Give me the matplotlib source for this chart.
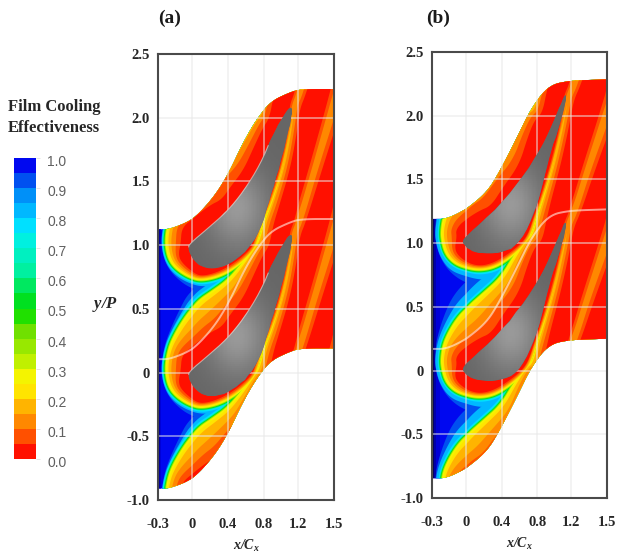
import numpy as np
import matplotlib
matplotlib.use("Agg")
import matplotlib.pyplot as plt
from matplotlib.colors import ListedColormap, BoundaryNorm
from matplotlib.patches import Polygon
from matplotlib.transforms import ScaledTranslation

plt.rcParams['mathtext.fontset'] = 'custom'
plt.rcParams['mathtext.it'] = 'Liberation Serif:italic:bold'
plt.rcParams['mathtext.rm'] = 'Liberation Serif:italic:bold'

# ---------- axes content ----------
x_ticks = [-0.3, 0, 0.4, 0.8, 1.2, 1.5]
x_tick_labels = ['-0.3', '0', '0.4', '0.8', '1.2', '1.5']
y_ticks = [-1.0, -0.5, 0, 0.5, 1.0, 1.5, 2.0, 2.5]
y_tick_labels = ['-1.0', '-0.5', '0', '0.5', '1.0', '1.5', '2.0', '2.5']
x_tick_spacing = [0, 34, 70, 106, 140, 176]   # unequal label steps on an evenly drawn axis
bar_ticks = [round(v * 0.1, 1) for v in range(11)]

# ---------- 20 colour bands of effectiveness, 0.00 .. 1.00 ----------
band_edges = [i * 0.05 for i in range(21)]
band_colors = ['#ff1000', '#ff5000', '#ff8800', '#ffb400', '#ffe400', '#f4f400', '#c0f000',
               '#98e800', '#70e000', '#20e000', '#00e020', '#00e860', '#00f0a0', '#00f0c0',
               '#00f0e0', '#00e0ff', '#00b8ff', '#0090f8', '#0050f0', '#0008f0']

# ---------- passage geometry: upper wall, blade outline ----------
wall_x_a = [-0.3, -0.195, 0.01, 0.235, 0.4, 0.57, 0.72, 0.87, 1.105, 1.24, 1.5]
wall_y_a = [1.125, 1.125, 1.20, 1.37, 1.555, 1.81, 1.99, 2.125, 2.20, 2.225, 2.225]
wall_x_b = [-0.3, -0.17, 0.01, 0.235, 0.375, 0.565, 0.745, 0.94, 1.18, 1.5]
wall_y_b = [1.19, 1.19, 1.27, 1.40, 1.56, 1.82, 2.08, 2.24, 2.275, 2.285]
passage_height = 2.035
midline_drop = 1.02

blade_x_a = [-0.035, -0.02, 0.165, 0.39, 0.57, 0.755, 0.905, 1.07, 1.12, 1.13, 1.105, 0.985, 0.87,
             0.755, 0.61, 0.42, 0.235, 0.09, 0.0]
blade_y_a = [0.97, 1.015, 1.125, 1.265, 1.42, 1.63, 1.87, 2.06, 2.085, 2.05, 1.945, 1.63, 1.37,
             1.11, 0.955, 0.85, 0.81, 0.835, 0.90]
blade_x_b = [-0.035, 0.01, 0.375, 0.68, 0.905, 1.09, 1.13, 1.14, 1.06, 0.94, 0.86, 0.745, 0.575,
             0.375, 0.155, 0.02]
blade_y_b = [1.01, 1.06, 1.29, 1.56, 1.82, 2.11, 2.17, 2.13, 1.92, 1.69, 1.45, 1.19, 0.98, 0.92,
             0.92, 0.955]

# ---------- coolant front around one blade (one pitch) ----------
front_up_x_a = [0.68, 0.535, 0.39, 0.235, 0.055, -0.06, -0.175, -0.22, -0.24]
front_up_y_a = [0.977, 0.844, 0.727, 0.648, 0.5625, 0.445, 0.273, 0.156, 0.016]
front_lo_x_a = [-0.21, -0.13, 0.01, 0.145, 0.345, 0.535, 0.69]
front_lo_y_a = [-0.117, -0.203, -0.273, -0.281, -0.242, -0.156, -0.047]
seam_x_a = [0.735, 0.80, 0.895, 1.035, 1.13, 1.155, 1.217, 1.34, 1.483, 1.59]
seam_y_a = [0.03, 0.19, 0.34, 0.63, 0.945, 1.085, 1.195, 1.595, 2.045, 2.40]

front_up_x_b = [0.67, 0.535, 0.39, 0.19, 0.0, -0.105, -0.195, -0.22, -0.22]
front_up_y_b = [1.03, 0.906, 0.734, 0.609, 0.492, 0.383, 0.234, 0.117, 0.03]
front_lo_x_b = [-0.185, -0.105, 0.01, 0.165, 0.33, 0.49, 0.645]
front_lo_y_b = [-0.086, -0.164, -0.203, -0.219, -0.195, -0.125, -0.03]
seam_x_b = [0.735, 0.80, 0.88, 1.0, 1.12, 1.165, 1.23, 1.34, 1.483, 1.59]
seam_y_b = [0.0625, 0.22, 0.375, 0.64, 0.97, 1.14, 1.25, 1.58, 1.97, 2.28]

# ---------- iso-effectiveness levels: effectiveness and depth from the front, 1/128 pitch ----------
cold_eta = [0.91, 0.83, 0.76, 0.64, 0.52, 0.37]
cold_up = [[5, 8, 12, 14, 12, 8, 5, 4, 4],
           [4, 5, 7, 8, 7, 5, 4, 3.8, 3.8],
           [3, 3.5, 4, 4, 4, 4, 3.5, 3.2, 3.2],
           [2.5, 2.5, 2.5, 2.5, 2.5, 2.5, 2.5, 2.5, 2.5],
           [1.8, 1.8, 1.8, 1.8, 1.8, 1.8, 1.8, 1.8, 1.8],
           [0.9, 0.9, 0.9, 0.9, 0.9, 0.9, 0.9, 0.9, 0.9]]
cold_lo = [[4, 6, 9, 12, 16, 16, 10],
           [3.8, 5, 5, 6, 8, 8, 6],
           [3.2, 3.5, 3.5, 4, 4, 4, 3],
           [2.5, 2.5, 2.5, 2.5, 2.5, 2.5, 2.5],
           [1.8, 1.8, 1.8, 1.8, 1.8, 1.8, 1.8],
           [0.9, 0.9, 0.9, 0.9, 0.9, 0.9, 0.9]]
cold_scale_a = 1.0
cold_scale_b = 1.5

hot_eta = [0.27, 0.22, 0.17, 0.12, 0.07, 0.02]
# negative depth: neighbouring pitches overlap, so the wake shows only the outer orange
hot_seam_right = [[-3, -3, -3, -3, -3, -3, -2, 0, 0, 0],
                  [-2, -2, -2, -2, -2, -2, -1, 0, 0.5, 0.5],
                  [-1.5, -1.5, -1.5, -1.5, -1.5, -1, 0, 0.5, 1, 1.5],
                  [-0.5, -0.5, -0.5, -0.5, -0.5, 0.5, 1.5, 2, 3, 4],
                  [4, 4, 3, 3, 3, 3, 4, 5, 6, 7],
                  [9, 8, 7, 6, 6, 6, 7, 8, 10, 12]]
hot_up = [[0, 0, 0, 0, 0, 0, 0, 0, 0],
          [1, 1.5, 2, 2, 2.5, 2, 2, 1.5, 1.5],
          [1.5, 3, 4, 5, 6, 5, 4, 3, 3],
          [3, 6, 10, 13, 16, 13, 8, 6, 6],
          [7, 11, 16, 20, 25, 21, 14, 10, 11],
          [12, 17, 24, 30, 36, 30, 21, 15, 16]]
hot_lo = [[0, 0, 0, 0, 0, 0, 0],
          [1.5, 1.2, 1, 1, 1, 1, 1],
          [3, 2.5, 2, 2, 2, 1.5, 1.5],
          [5.5, 4.5, 3, 3, 3, 2.5, 2],
          [8, 6.5, 4.5, 4, 4, 3.5, 3],
          [11, 9, 6, 5, 5.5, 5, 4]]
hot_seam_left = [[0, 0, 0, -2, -3, -3, -3, -3, -3, -3],
                 [0.5, 0.5, 0, -1, -2, -2, -2, -2, -2, -2],
                 [1, 1, 0.5, 0, -1, -1.5, -1.5, -1.5, -1.5, -1.5],
                 [2, 2, 1.5, 1.5, 1, -0.5, -0.5, -0.5, -0.5, -0.5],
                 [3, 2.5, 2, 2, 2, 3, 3, 3, 4, 4],
                 [3.5, 3, 3, 3, 3, 5, 5, 6, 7, 8]]

inlet_eta = [1.0]
pitches = [-2, -1, 0, 1, 2]

# ---------- helpers ----------
knots_x = np.array([-1.3] + x_ticks + [2.5])
knots_u = np.array([x_tick_spacing[0] - 34 / 0.3, *x_tick_spacing, x_tick_spacing[-1] + 36 / 0.3])


def to_u(x):
    return np.interp(x, knots_x, knots_u)


def from_u(u):
    return np.interp(u, knots_u, knots_x)


def color_of(eta):
    return band_colors[min(int(eta / 0.05), 19)]


def chaikin(x, y, closed=True, n=3):
    x, y = np.asarray(x, float), np.asarray(y, float)
    for _ in range(n):
        if closed:
            x1, y1 = np.roll(x, -1), np.roll(y, -1)
            x, y = (np.column_stack([.75 * x + .25 * x1, .25 * x + .75 * x1]).ravel(),
                    np.column_stack([.75 * y + .25 * y1, .25 * y + .75 * y1]).ravel())
        else:
            qx = np.column_stack([.75 * x[:-1] + .25 * x[1:], .25 * x[:-1] + .75 * x[1:]]).ravel()
            qy = np.column_stack([.75 * y[:-1] + .25 * y[1:], .25 * y[:-1] + .75 * y[1:]]).ravel()
            x = np.r_[x[0], qx, x[-1]]
            y = np.r_[y[0], qy, y[-1]]
    return x, y


def level_outline(fx, fy, depth):
    """Iso-line offset from the front path; depth>0 towards the blade, <0 towards the coolant."""
    u, v = to_u(fx), np.asarray(fy) * 128.0
    tu, tv = np.gradient(u), np.gradient(v)
    norm = np.hypot(tu, tv)
    u2 = u - tv / norm * depth
    v2 = v + tu / norm * depth
    return from_u(u2), v2 / 128.0


def draw_panel(ax, wx, wy, bx, by, ux, uy, lx, ly, sx, sy, inlet_edges, inlet_colors, blade_hi, edge_line, cold_scale):
    ax.set_xscale('function', functions=(to_u, from_u))
    ax.set_xlim(-0.3, 1.5)
    ax.set_ylim(-1.0, 2.5)
    wx2, wy2 = chaikin(wx, wy, closed=False)
    dom_x = np.r_[wx2, wx2[::-1]]
    dom_y = np.r_[wy2, wy2[::-1] - passage_height]
    domain = Polygon(np.column_stack([dom_x, dom_y]), closed=True, fc=color_of(inlet_eta[0]), ec='none', zorder=1)
    ax.add_patch(domain)

    for x0, x1, c in zip(inlet_edges[:-1], inlet_edges[1:], inlet_colors):
        r = ax.axvspan(x0, x1, fc=c, ec='none', zorder=1.1)
        r.set_clip_path(domain)

    # one closed path: seam of the next pitch, front over and under the blade, seam of this pitch
    sx_, sy_ = np.asarray(sx), np.asarray(sy)
    fx = np.r_[sx_[::-1], ux, lx, sx_]
    fy = np.r_[sy_[::-1] + 1.0, uy, ly, sy_]

    z = 2.0
    zeros = [0] * len(sx)
    for i, eta in enumerate(cold_eta):
        sc = cold_scale if i < 2 else 1.0
        depth = -np.r_[zeros, np.array(cold_up[i]) * sc, np.array(cold_lo[i]) * sc, zeros]
        ox, oy = level_outline(fx, fy, depth)
        ox, oy = chaikin(ox, oy)
        for k in pitches:
            p = Polygon(np.column_stack([ox, oy + k]), closed=True, fc=color_of(eta), ec='none', zorder=z)
            ax.add_patch(p)
            p.set_clip_path(domain)
        z += 0.01
    for i, eta in enumerate(hot_eta):
        depth = np.r_[hot_seam_right[i], hot_up[i], hot_lo[i], hot_seam_left[i]]
        ox, oy = level_outline(fx, fy, depth)
        ox, oy = chaikin(ox, oy)
        for k in pitches:
            p = Polygon(np.column_stack([ox, oy + k]), closed=True, fc=color_of(eta), ec='none', zorder=z)
            ax.add_patch(p)
            p.set_clip_path(domain)
        z += 0.01

    # blades, grey with a paler core
    bx2, by2 = chaikin(bx, by, n=2)
    gx = np.linspace(-0.1, 1.2, 90)
    gy = np.linspace(-0.3, 2.2, 160)
    GX, GY = np.meshgrid(gx, gy)
    for k in (0, 1):
        cx, cy = blade_hi
        C = np.exp(-(((GX - cx) / 0.33) ** 2 + ((GY - (cy + k - 1)) / 0.3) ** 2))
        poly = Polygon(np.column_stack([bx2, by2 + k - 1]), closed=True, fc='#6a6a6a', ec='none', zorder=3)
        ax.add_patch(poly)
        m = ax.pcolormesh(gx, gy, C, cmap='gray', vmin=-2.0, vmax=3.0, shading='auto', zorder=3.1, rasterized=True)
        m.set_clip_path(poly)
        if edge_line:
            ax.plot(bx2[:22], by2[:22] + k - 1, color='#f4e0d8', lw=0.8, alpha=0.6, zorder=3.2)

    # periodic boundary line
    ax.plot(wx2, wy2 - midline_drop, color='#fff0e8', lw=1.4, alpha=0.6, zorder=4)

    for s in ax.spines.values():
        s.set_color('#4a4a4a')
        s.set_linewidth(1.5)
        s.set_zorder(6)
    ax.set_xticks(x_ticks, x_tick_labels)
    ax.set_yticks(y_ticks, y_tick_labels)
    ax.minorticks_off()
    ax.tick_params(axis='x', length=0, pad=13, labelsize=10.5, labelcolor='#262626')
    ax.tick_params(axis='y', length=0, pad=6, labelsize=10.5, labelcolor='#262626')
    for t in ax.get_xticklabels() + ax.get_yticklabels():
        t.set_fontfamily('Liberation Serif')
        t.set_fontweight('bold')
    ax.grid(True, color='#e8e8e8', lw=1.1, alpha=0.65, zorder=5)
    ax.set_axisbelow(False)
    ax.set_xlabel(r'$x/C_x$', fontsize=10, color='#262626', labelpad=5)


W, H = 620, 557
fig = plt.figure(figsize=(W / 100, H / 100), dpi=100)


def rect(l, r, t, b):
    return [l / W, 1 - b / H, (r - l) / W, (b - t) / H]


ax_a = fig.add_axes(rect(158, 334, 54, 500))
ax_b = fig.add_axes(rect(432, 607, 52, 498))
draw_panel(ax_a, wall_x_a, wall_y_a, blade_x_a, blade_y_a, front_up_x_a, front_up_y_a, front_lo_x_a, front_lo_y_a,
           seam_x_a, seam_y_a, [-0.3, -0.285, -0.27], ['#0000a0', '#0000d8'], (0.5, 1.29), True, cold_scale_a)
draw_panel(ax_b, wall_x_b, wall_y_b, blade_x_b, blade_y_b, front_up_x_b, front_up_y_b, front_lo_x_b, front_lo_y_b,
           seam_x_b, seam_y_b, [-0.3, -0.285, -0.265, -0.23], ['#000060', '#0000a8', '#0000d8'], (0.5, 1.3), False,
           cold_scale_b)

ax_a.text((170 - 158) / 176, (500 - 18) / 446, '(a)', transform=ax_a.transAxes, ha='center', va='center',
          family='Liberation Serif', weight='bold', fontsize=14, color='#1a1a1a')
ax_b.text((438 - 432) / 175, (498 - 18) / 446, '(b)', transform=ax_b.transAxes, ha='center', va='center',
          family='Liberation Serif', weight='bold', fontsize=14, color='#1a1a1a')
ax_a.set_ylabel(r'$y/P$', fontsize=12, rotation=0, color='#262626', va='center', ha='center')
ax_a.yaxis.set_label_coords((105 - 158) / 176, (500 - 304) / 446)

# colour bar
ax_c = fig.add_axes(rect(14, 36, 158, 459))
ax_c.pcolormesh([0, 1], band_edges, np.array(band_edges[:-1]).reshape(-1, 1) + 0.025,
                cmap=ListedColormap(band_colors), norm=BoundaryNorm(band_edges, 20))
ax_c.set_xticks([])
ax_c.set_ylim(0, 1)
ax_c.yaxis.tick_right()
ax_c.set_yticks(bar_ticks, [f'{v:.1f}' for v in bar_ticks])
ax_c.tick_params(axis='y', length=3, width=0.6, color='#e0e0e0', pad=5, labelsize=10, labelcolor='#606060')
shift = ScaledTranslation(0, -2.5 / 100, fig.dpi_scale_trans)
for t in ax_c.get_yticklabels():
    t.set_family('Liberation Sans')
    t.set_transform(t.get_transform() + shift)
for s in ax_c.spines.values():
    s.set_visible(False)

for txt, py in (('Film Cooling', 107), ('Effectiveness', 128)):
    fig.text(8 / W, 1 - py / H, txt, ha='left', va='center', family='Liberation Serif', weight='bold',
             fontsize=12, color='#262626')

fig.savefig('out.png', dpi=100)
